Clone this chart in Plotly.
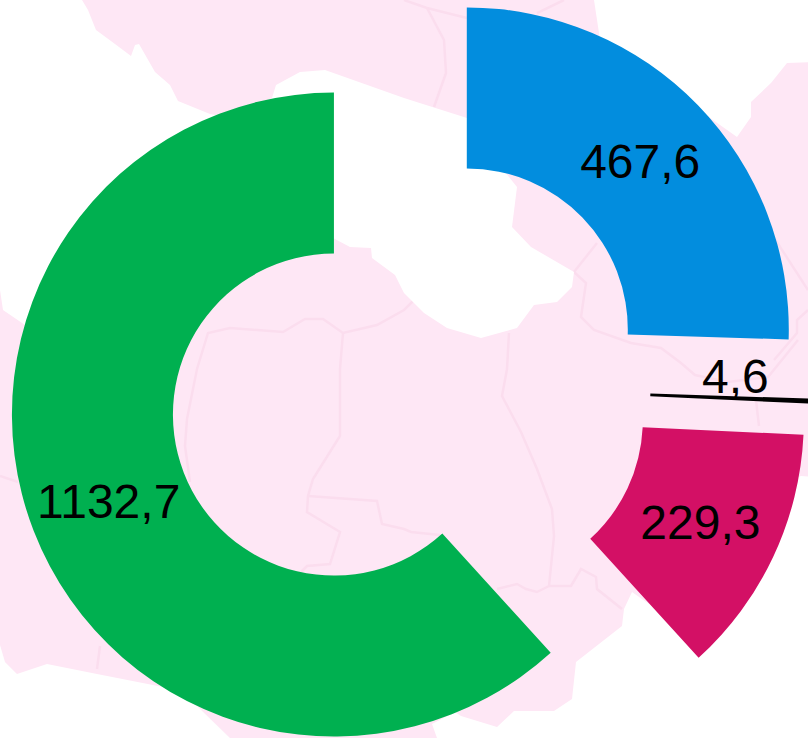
import plotly.graph_objects as go

# ---- chart data
categories = ["A", "B", "C", "D"]
values = [467.6, 4.6, 229.3, 1132.7]
slice_colors = ["#028DDE", "#000000", "#D31065", "#00B050"]
pull_amount = [0.25, 0.25, 0.25, 0.25]
labels = ["467,6", "", "229,3", "1132,7"]
small_label = "4,6"

# ---- decorative background map, in page pixels
LAND = "#FEE7F5"
BORDER = "#FBDDEE"
sea_polygons = [
    [(0,0),(82,0),(88,10),(96,30),(115,44),(131,56),(135,45),(139,44),(155,72),(170,85),(178,101),(210,114),
     (240,120),(272,98),(276,85),(300,72),(325,70),(404,98),(467,118),(505,172),(517,187),(512,227),(531,247),
     (574,272),(572,287),(557,302),(534,305),(517,328),(481,338),(447,328),(424,313),(404,293),(395,275),
     (372,258),(371,248),(350,247),(333,238),(150,300),(25,325),(3,310),(0,290)],
    [(594,0),(818,0),(818,62),(787,63),(771,83),(751,102),(751,117),(737,137),(600,40),(599,33)],
    [(0,645),(5,662),(17,674),(47,664),(97,674),(163,687),(197,706),(230,738),(230,800),(0,800)],
    [(437,738),(432,724),(455,712),(461,716),(497,727),(514,711),(554,711),(572,699),(576,662),(622,626),
     (624,609),(632,592),(700,640),(790,480),(801,476),(818,477),(818,800),(437,800)],
]
border_lines = [
    [(190,482),(185,446),(187,419),(197,369),(208,333),(230,328),(283,332),(305,319),(323,319),(343,333),(377,325),(404,310),(414,300)],
    [(343,333),(340,369),(340,436),(313,479),(308,496),(307,512),(340,532),(330,564),(307,566),(298,575)],
    [(308,496),(377,501),(382,524),(404,529),(411,532),(440,535)],
    [(0,476),(18,482)],
    [(100,646),(97,669)],
    [(404,0),(427,8),(467,18)],
    [(427,8),(444,40),(446,73),(434,107)],
    [(537,13),(564,0)],
    [(574,272),(597,243)],
    [(574,272),(586,283),(581,317),(594,330),(631,343),(661,348),(681,363),(695,375),(728,382),(768,377),(798,340)],
    [(771,233),(808,290)],
    [(808,310),(797,320),(797,333),(774,360)],
    [(509,333),(507,369),(502,396),(521,432),(537,469),(552,509),(554,536),(549,586),(537,592),(526,589),(517,584),(497,589)],
    [(549,586),(571,586),(581,569),(596,577),(597,589),(622,609)],
    [(756,400),(759,426)],
]

FIG_W, FIG_H = 818, 805
TOP = -17


def to_path(pts, close):
    body = " L ".join(f"{x / FIG_W:.5f} {1 - (y - TOP) / FIG_H:.5f}" for x, y in pts)
    return "M " + body + (" Z" if close else "")


shapes = [dict(type="path", xref="paper", yref="paper", layer="below", path=to_path(p, False),
               line=dict(color=BORDER, width=2.5)) for p in border_lines]
shapes += [dict(type="path", xref="paper", yref="paper", layer="below", path=to_path(p, True),
                fillcolor="#FFFFFF", line=dict(width=0)) for p in sea_polygons]

fig = go.Figure(go.Pie(
    labels=categories,
    values=values,
    text=labels,
    textinfo="text",
    textposition="inside",
    insidetextorientation="horizontal",
    textfont=dict(family="Liberation Sans", size=48, color="#000000"),
    hole=0.5,
    sort=False,
    direction="clockwise",
    rotation=0,
    pull=pull_amount,
    marker=dict(colors=slice_colors, line=dict(width=0)),
    showlegend=False,
    domain=dict(x=[0, 1], y=[0, 1]),
))

fig.update_layout(
    width=FIG_W,
    height=FIG_H,
    margin=dict(l=0, r=0, t=0, b=0, autoexpand=False),
    paper_bgcolor=LAND,
    plot_bgcolor=LAND,
    uniformtext=dict(mode="show", minsize=48),
    shapes=shapes,
    annotations=[dict(text=small_label, xref="paper", yref="paper", x=735 / FIG_W,
                      y=1 - (376 - TOP) / FIG_H, xanchor="center", yanchor="middle", showarrow=False,
                      font=dict(family="Liberation Sans", size=48, color="#000000"))],
)

fig.write_html(
    "out.html",
    config=dict(displayModeBar=False),
    post_script=(
        "document.documentElement.style.overflow='hidden';"
        "document.body.style.overflow='hidden';"
        "document.body.style.margin='0';"
        f"document.getElementById('{{plot_id}}').style.marginTop='{TOP}px';"
    ),
)
